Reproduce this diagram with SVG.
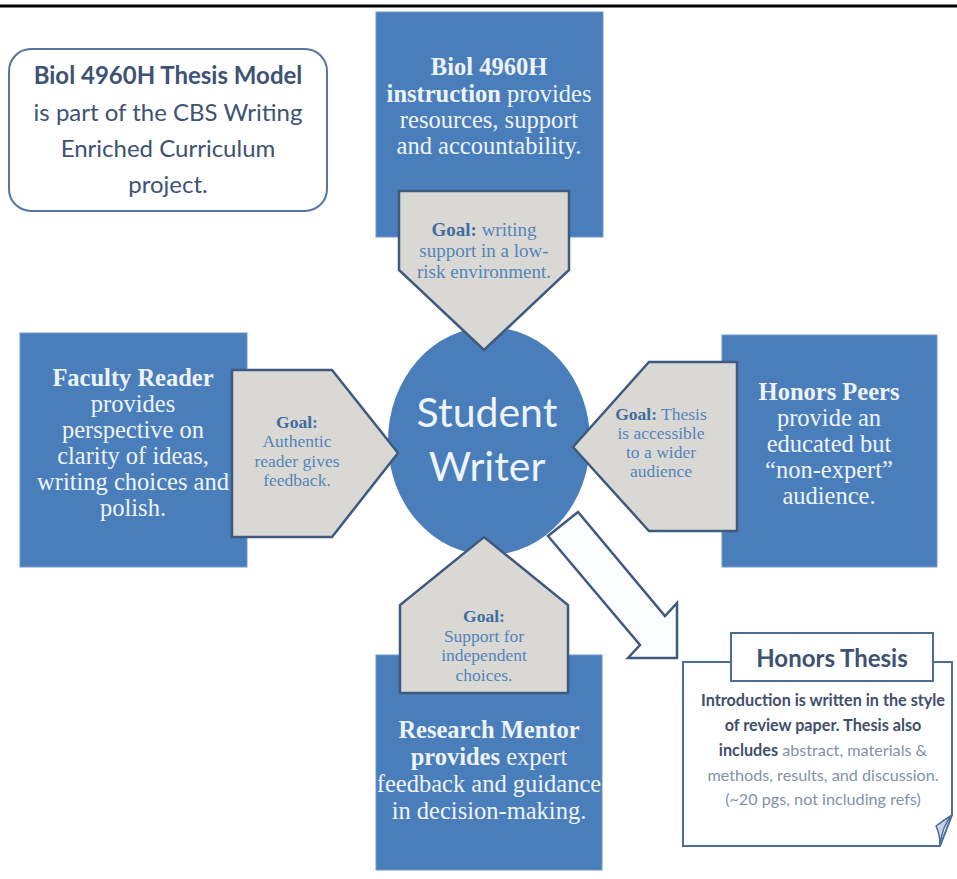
<svg xmlns="http://www.w3.org/2000/svg" width="957" height="879" viewBox="0 0 957 879">
  <style>
    .blue { fill: #4a7ebb; stroke: #6f98cb; stroke-width: 1; }
    .goal { fill: #dad8d5; stroke: #3e5a7e; stroke-width: 2.5; stroke-linejoin: miter; }
    .btxt { font-family: "Liberation Serif", "Times New Roman", serif; font-size: 24.5px; fill: #eef3fa; text-anchor: middle; }
    .gtxt { font-family: "Liberation Serif", "Times New Roman", serif; font-size: 17.5px; fill: #5485b8; text-anchor: middle; }
    .gtop { font-size: 19px; }
    .gb { font-weight: bold; fill: #3f6d9d; }
    .b { font-weight: bold; }
    .sans { font-family: Lato, "Open Sans", sans-serif; }
    .note { font-size: 24px; fill: #3e5272; text-anchor: middle; }
    .thesis { font-size: 16.2px; fill: #8391a8; text-anchor: middle; }
    .thesis .b { fill: #3f4f6c; }
  </style>

  <!-- rule across the top -->
  <line x1="0" y1="6" x2="957" y2="6" stroke="#000" stroke-width="3"/>

  <!-- course note -->
  <g id="course-note">
    <rect x="9" y="49" width="318" height="162" rx="22" ry="22" fill="#fff" stroke="#5676a0" stroke-width="2"/>
    <text class="sans note" x="168" y="84"><tspan class="b">Biol 4960H Thesis Model</tspan></text>
    <text class="sans note" x="168" y="121">is part of the CBS Writing</text>
    <text class="sans note" x="168" y="157">Enriched Curriculum</text>
    <text class="sans note" x="168" y="193">project.</text>
  </g>

  <!-- source boxes -->
  <g id="instruction">
    <rect class="blue" x="376" y="12" width="227" height="225"/>
    <text class="btxt" x="489" y="75"><tspan class="b">Biol 4960H</tspan></text>
    <text class="btxt" x="489" y="102"><tspan class="b">instruction</tspan> provides</text>
    <text class="btxt" x="489" y="128">resources, support</text>
    <text class="btxt" x="489" y="154">and accountability.</text>
  </g>

  <g id="faculty-reader">
    <rect class="blue" x="20" y="333" width="227" height="234"/>
    <text class="btxt" x="133" y="386"><tspan class="b">Faculty Reader</tspan></text>
    <text class="btxt" x="133" y="412">provides</text>
    <text class="btxt" x="133" y="438">perspective on</text>
    <text class="btxt" x="133" y="464">clarity of ideas,</text>
    <text class="btxt" x="133" y="490">writing choices and</text>
    <text class="btxt" x="133" y="516">polish.</text>
  </g>

  <g id="honors-peers">
    <rect class="blue" x="722" y="335" width="215" height="232"/>
    <text class="btxt" x="829" y="400"><tspan class="b">Honors Peers</tspan></text>
    <text class="btxt" x="829" y="426">provide an</text>
    <text class="btxt" x="829" y="452">educated but</text>
    <text class="btxt" x="829" y="478">“non-expert”</text>
    <text class="btxt" x="829" y="504">audience.</text>
  </g>

  <g id="research-mentor">
    <rect class="blue" x="376" y="655" width="226" height="215"/>
    <text class="btxt" x="489" y="738"><tspan class="b">Research Mentor</tspan></text>
    <text class="btxt" x="489" y="765"><tspan class="b">provides</tspan> expert</text>
    <text class="btxt" x="489" y="792">feedback and guidance</text>
    <text class="btxt" x="489" y="819">in decision-making.</text>
  </g>

  <!-- output arrow: student writer to thesis -->
  <g id="connectors">
    <polygon points="548,536 640,645 628,658 677,658 677,603 665,616 578,512" fill="#fbfcfe" stroke="#3e5a7e" stroke-width="2.5" stroke-linejoin="miter"/>
  </g>

  <!-- centre -->
  <g id="student-writer">
    <ellipse cx="489" cy="441" rx="101" ry="114" fill="#4a7ebb"/>
    <text class="sans" x="487" y="427" font-size="41" fill="#eef4fb" text-anchor="middle">Student</text>
    <text class="sans" x="487" y="481" font-size="41" fill="#eef4fb" text-anchor="middle">Writer</text>
  </g>

  <!-- goal arrows pointing at the student -->
  <g id="goal-instruction">
    <polygon class="goal" points="399,191 569,191 569,270 484,350 399,270"/>
    <text class="gtxt gtop" x="484" y="236"><tspan class="gb">Goal:</tspan> writing</text>
    <text class="gtxt gtop" x="484" y="257">support in a low-</text>
    <text class="gtxt gtop" x="484" y="278">risk environment.</text>
  </g>

  <g id="goal-faculty">
    <polygon class="goal" points="232,370 332,370 398,453 332,537 232,537"/>
    <text class="gtxt" x="297" y="428"><tspan class="gb">Goal:</tspan></text>
    <text class="gtxt" x="297" y="447">Authentic</text>
    <text class="gtxt" x="297" y="467">reader gives</text>
    <text class="gtxt" x="297" y="486">feedback.</text>
  </g>

  <g id="goal-peers">
    <polygon class="goal" points="737,362 649,362 573,447 649,531 737,531"/>
    <text class="gtxt" x="661" y="420"><tspan class="gb">Goal:</tspan> Thesis</text>
    <text class="gtxt" x="661" y="439">is accessible</text>
    <text class="gtxt" x="661" y="458">to a wider</text>
    <text class="gtxt" x="661" y="477">audience</text>
  </g>

  <g id="goal-mentor">
    <polygon class="goal" points="484,537 568,605 568,693 400,693 400,605"/>
    <text class="gtxt" x="484" y="622"><tspan class="gb">Goal:</tspan></text>
    <text class="gtxt" x="484" y="642">Support for</text>
    <text class="gtxt" x="484" y="661">independent</text>
    <text class="gtxt" x="484" y="681">choices.</text>
  </g>

  <!-- the finished thesis -->
  <g id="honors-thesis">
    <path d="M683,662 H952 V815 L940,846 H683 Z" fill="#fff" stroke="#4e6d96" stroke-width="2"/>
    <path d="M940,846 Q942,826 952,815 Q944,820 936,826 Q940,834 940,846 Z" fill="#c9d5e6" stroke="#4e6d96" stroke-width="1.5"/>
    <rect x="731" y="633" width="202" height="48" fill="#fff" stroke="#4e6d96" stroke-width="2"/>
    <text class="sans" x="832" y="667" font-size="24" font-weight="bold" fill="#3e5272" text-anchor="middle">Honors Thesis</text>
    <text class="sans thesis" x="823" y="706"><tspan class="b">Introduction is written in the style</tspan></text>
    <text class="sans thesis" x="823" y="731"><tspan class="b">of review paper.  Thesis also</tspan></text>
    <text class="sans thesis" x="823" y="756"><tspan class="b">includes</tspan> abstract, materials &amp;</text>
    <text class="sans thesis" x="823" y="781">methods, results, and discussion.</text>
    <text class="sans thesis" x="823" y="805">(~20 pgs, not including refs)</text>
  </g>
</svg>
